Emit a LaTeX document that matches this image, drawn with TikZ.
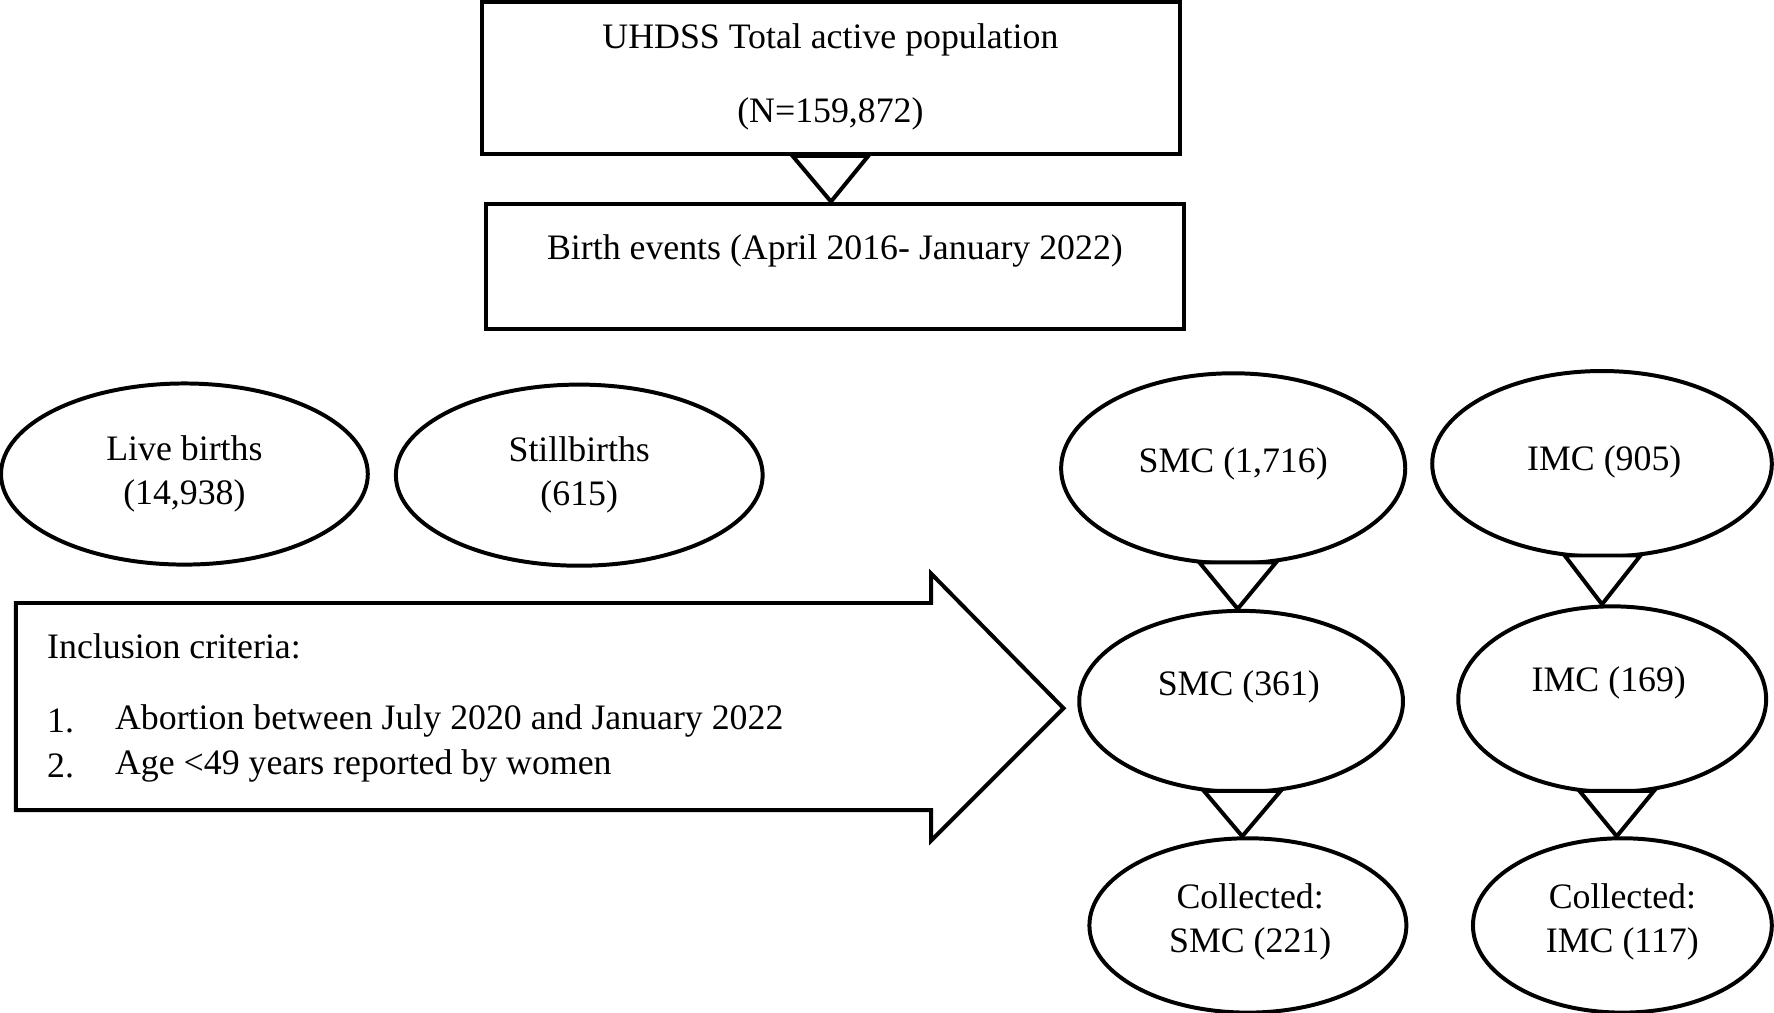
\documentclass[tikz,border=0pt]{standalone}
\usepackage{fontspec}
\setmainfont{Liberation Serif}
\usetikzlibrary{shapes.geometric,calc}
\begin{document}
\begin{tikzpicture}[x=0.01cm,y=-0.01cm,line width=1pt,
  txt/.style={font=\fontsize{9}{11}\selectfont},
  shp/.style={draw,inner sep=0pt},
  tri/.style={draw,fill=white,line join=miter}]
\useasboundingbox (0,0) rectangle (1568,895);
% boxes
\node[shp,minimum width=6.17cm,minimum height=1.34cm] (b1) at (734.5,69) {};
\node[txt] (t1) at (734,35) {UHDSS Total active population};
\node[txt] (t2) at (734,101) {(N=159,872)};
\node[shp,minimum width=6.16cm,minimum height=1.11cm] (b2) at (738,235.5) {};
\node[txt] (t3) at (738,222) {Birth events (April 2016- January 2022)};
\draw[tri] ($(b1.south)+(-34,0)$) -- ($(b1.south)+(33,0)$) -- (b2.north -| b1.south) -- cycle;
% ellipses
\node[shp,ellipse,minimum width=3.24cm,minimum height=1.6cm] (lb) at (163,419) {};
\node[txt,align=center] at (163,419) {Live births\\(14,938)};
\node[shp,ellipse,minimum width=3.24cm,minimum height=1.6cm] (sb) at (512,420) {};
\node[txt,align=center] at (512,420) {Stillbirths\\(615)};
\node[shp,ellipse,minimum width=3.04cm,minimum height=1.68cm] (s1) at (1090,414) {};
\node[txt] at (1090,410) {SMC (1,716)};
\node[shp,ellipse,minimum width=3.0cm,minimum height=1.64cm] (i1) at (1416,410) {};
\node[txt] at (1418,408) {IMC (905)};
\node[shp,ellipse,minimum width=2.86cm,minimum height=1.6cm] (s2) at (1097,620) {};
\node[txt] at (1095,607) {SMC (361)};
\node[shp,ellipse,minimum width=2.72cm,minimum height=1.64cm] (i2) at (1425,618) {};
\node[txt] at (1422,604) {IMC (169)};
\node[shp,ellipse,minimum width=2.8cm,minimum height=1.54cm] (s3) at (1103,818) {};
\node[txt,align=center] at (1105,815) {Collected:\\SMC (221)};
\node[shp,ellipse,minimum width=2.64cm,minimum height=1.54cm] (i3) at (1434,818) {};
\node[txt,align=center] at (1434,815) {Collected:\\IMC (117)};
% triangles
\draw[tri] (1060,497) -- (1128,497) -- (s2.north -| 1094,0) -- cycle;
\draw[tri] (1383,491) -- (1450,491) -- (i2.north -| 1416,0) -- cycle;
\draw[tri] (1064,699) -- (1132,699) -- (s3.north -| 1098,0) -- cycle;
\draw[tri] (1396,699) -- (1462,699) -- (i3.north -| 1429,0) -- cycle;
% big arrow
\coordinate (tip) at (940,626);
\draw[line join=miter] (14,533) -- (823,533) -- (823,507) -- (tip) -- (823,743) -- (823,716) -- (14,716) -- cycle;
\node[txt,anchor=west,inner sep=0pt] (ic) at (40,571) {Inclusion criteria:};
\node[txt,anchor=west,inner sep=0pt] (n1) at (40,637) {1.};
\node[txt,anchor=west,inner sep=0pt] (n2) at (40,677) {2.};
\node[txt,anchor=west,inner sep=0pt] (c1) at (100,637) {Abortion between July 2020 and January 2022};
\node[txt,anchor=west,inner sep=0pt] (c2) at (100,677) {Age <49 years reported by women};
\end{tikzpicture}
\end{document}
